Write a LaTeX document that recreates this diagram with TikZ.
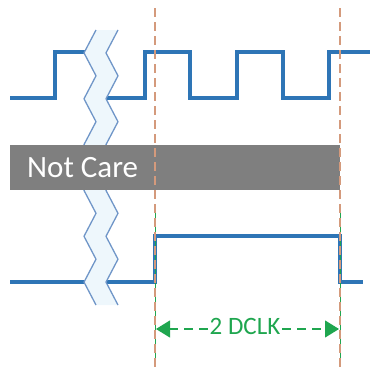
\documentclass[tikz,border=0pt]{standalone}
\usepackage{fontspec}
\setmainfont{Carlito}
\usetikzlibrary{arrows.meta}
\definecolor{sigblue}{HTML}{2E75B6}
\definecolor{zigline}{HTML}{7096C8}
\definecolor{zigfill}{HTML}{EEF7FC}
\definecolor{dashorange}{HTML}{D49A7C}
\definecolor{barGray}{HTML}{7F7F7F}
\definecolor{dimgreen}{HTML}{1FA64F}
\tikzset{
  signal/.style={draw=sigblue, line width=3.2pt, line join=miter},
  guide/.style={draw=dashorange, line width=1.3pt, dash pattern=on 9pt off 5pt},
  ext/.style={draw=dimgreen, line width=0.8pt},
  dim/.style={draw=dimgreen, line width=1.2pt, dash pattern=on 9pt off 6pt,
    -{Triangle[length=14pt,width=17pt]}},
  lbl/.style={inner sep=2pt, font=\fontsize{25}{25}\selectfont, text=dimgreen},
  bartext/.style={inner sep=0pt, anchor=base west, font=\fontsize{31}{31}\selectfont, text=white}
}
\begin{document}
\begin{tikzpicture}[x=1pt,y=-1pt]
\useasboundingbox (0,0) rectangle (370,372);
% signals
\draw[signal] (10,98) -- (55,98) -- (55,52) -- (92,52);
\draw[signal] (98,98) -- (145,98) -- (145,52) -- (190,52) -- (190,98) -- (237,98)
  -- (237,52) -- (283,52) -- (283,98) -- (329,98) -- (329,52) -- (370,52);
\draw[signal] (10,282) -- (155,282) -- (155,236) -- (340,236) -- (340,282) -- (363,282);
% break band
\fill[zigfill] (96,30) -- (84,52.9) -- (96,75.8) -- (84,98.8) -- (96,121.7) -- (84,144.6)
  -- (96,167.5) -- (84,190.4) -- (96,213.3) -- (84,236.3) -- (96,259.2) -- (84,282.1) -- (96,305)
  -- (118,305) -- (106,282.1) -- (118,259.2) -- (106,236.3) -- (118,213.3) -- (106,190.4)
  -- (118,167.5) -- (106,144.6) -- (118,121.7) -- (106,98.8) -- (118,75.8) -- (106,52.9)
  -- (118,30) -- cycle;
\draw[zigline, line width=1.3pt] (96,30) -- (84,52.9) -- (96,75.8) -- (84,98.8) -- (96,121.7) -- (84,144.6)
  -- (96,167.5) -- (84,190.4) -- (96,213.3) -- (84,236.3) -- (96,259.2) -- (84,282.1) -- (96,305);
\draw[zigline, line width=1.3pt] (118,30) -- (106,52.9) -- (118,75.8) -- (106,98.8) -- (118,121.7) -- (106,144.6)
  -- (118,167.5) -- (106,190.4) -- (118,213.3) -- (106,236.3) -- (118,259.2) -- (106,282.1) -- (118,305);
% not care bar
\fill[barGray] (10,145) rectangle (340,190);
\node[bartext] (nc) at (27,177) {Not Care};
% extension lines
\coordinate (e1t) at (155,204); \coordinate (e1b) at (155,360);
\coordinate (e2t) at (340,204); \coordinate (e2b) at (340,360);
\draw[ext] (e1t) -- (e1b);
\draw[ext] (e2t) -- (e2b);
% guides
\coordinate (g1t) at (155,8); \coordinate (g1b) at (155,372);
\coordinate (g2t) at (340,8); \coordinate (g2b) at (340,372);
\draw[guide] (g1t) -- (g1b);
\draw[guide] (g2t) -- (g2b);
% dimension
\coordinate (A) at (156,329);
\coordinate (B) at (339,329);
\node[lbl] (dclk) at (245,326) {2 DCLK};
\draw[dim] (dclk.west |- A) -- (A);
\draw[dim] (dclk.east |- B) -- (B);
\end{tikzpicture}
\end{document}
